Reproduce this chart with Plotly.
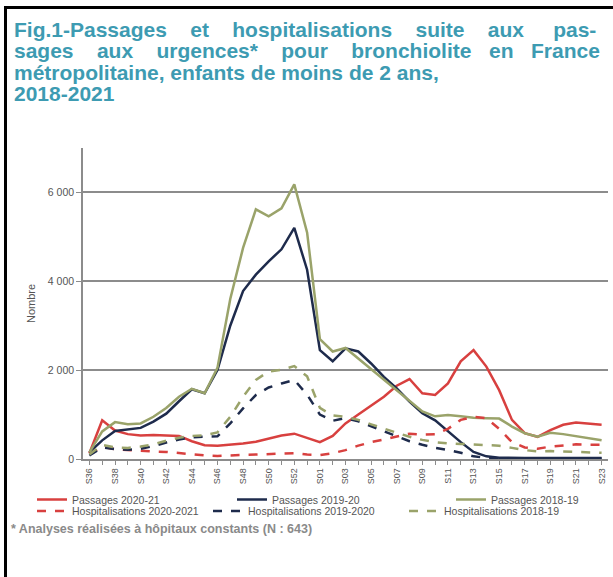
import plotly.graph_objects as go

weeks = ["S36","S37","S38","S39","S40","S41","S42","S43","S44","S45","S46","S47","S48","S49","S50","S51","S52","S53",
         "S01","S02","S03","S04","S05","S06","S07","S08","S09","S10","S11","S12","S13","S14","S15","S16","S17","S18",
         "S19","S20","S21","S22","S23"]

passages_2020_21 = [130, 870, 640, 560, 530, 540, 530, 520, 400, 310, 300, 320, 350, 390, 460, 530, 570, 480,
                    380, 520, 800, 1000, 1200, 1400, 1650, 1800, 1480, 1440, 1700, 2200, 2450, 2080, 1550, 880,
                    580, 500, 650, 770, 820, 790, 770]
passages_2019_20 = [150, 420, 630, 660, 700, 840, 1020, 1300, 1570, 1480, 2000, 3000, 3780, 4150, 4450, 4720, 5200, 4260,
                    2450, 2200, 2490, 2420, 2150, 1850, 1590, 1290, 1030, 870, 620, 380, 160, 60, 30, 20,
                    20, 20, 20, 20, 20, 20, 20]
passages_2018_19 = [150, 620, 830, 780, 800, 950, 1150, 1400, 1580, 1480, 2050, 3600, 4750, 5620, 5460, 5640, 6180, 5100,
                    2700, 2420, 2500, 2260, 2040, 1790, 1560, 1300, 1070, 960, 990, 960, 930, 920, 910, 730,
                    580, 500, 590, 560, 510, 470, 420]
hosp_2020_21 = [100, 280, 220, 200, 190, 170, 160, 130, 100, 80, 70, 80, 90, 100, 110, 120, 130, 100,
                90, 130, 200, 300, 380, 440, 500, 570, 550, 560, 680, 880, 950, 920, 680, 380,
                260, 230, 280, 310, 330, 320, 320]
hosp_2019_20 = [80, 260, 220, 210, 230, 290, 370, 440, 490, 500, 510, 800, 1140, 1440, 1610, 1700, 1780, 1450,
                1000, 860, 920, 850, 740, 620, 510, 400, 320, 250, 200, 140, 60, 25, 15, 10,
                10, 10, 10, 10, 10, 10, 10]
hosp_2018_19 = [100, 320, 260, 250, 280, 330, 410, 480, 520, 530, 600, 950, 1400, 1780, 1970, 2010, 2090, 1860,
                1150, 980, 950, 880, 780, 680, 590, 500, 430, 380, 350, 340, 330, 320, 300, 250,
                200, 170, 180, 170, 160, 150, 140]

y_ticks = [0, 2000, 4000, 6000]
y_tick_labels = ["0", "2 000", "4 000", "6 000"]

RED = "#d8403f"
NAVY = "#1e2b4c"
OLIVE = "#9aa36a"

W, H = 613, 577
L, R, T, B = 83, 5, 148, 118
PW, PH = W - L - R, H - T - B


def px_x(p):
    return (p - L) / PW


def px_y(p):
    return (H - B - p) / PH


x = list(range(len(weeks)))

font_main = "Liberation Sans, Arial, sans-serif"
leg_font = dict(size=10.5, color="#555555", family=font_main)

# legend slot positions (line start x, row top y)
series = [
    ("Passages 2020-21", passages_2020_21, RED, "solid", 37, 485),
    ("Passages 2019-20", passages_2019_20, NAVY, "solid", 237, 485),
    ("Passages 2018-19", passages_2018_19, OLIVE, "solid", 456, 485),
    ("Hospitalisations 2020-2021", hosp_2020_21, RED, "dash", 37, 496.5),
    ("Hospitalisations 2019-2020", hosp_2019_20, NAVY, "dash", 213, 496.5),
    ("Hospitalisations 2018-19", hosp_2018_19, OLIVE, "dash", 409, 496.5),
]

fig = go.Figure()
legends = {}
for k, (name, vals, col, dash, lx, ly) in enumerate(series):
    key = "legend" if k == 0 else f"legend{k + 1}"
    fig.add_trace(go.Scatter(x=x, y=vals, mode="lines", name=name, legend=key,
                             line=dict(color=col, width=2.5, dash=dash)))
    legends[key] = dict(orientation="h", x=px_x(lx - 5), y=px_y(ly), xanchor="left", yanchor="top",
                        font=leg_font, bgcolor="rgba(0,0,0,0)", borderwidth=0)

fig.update_layout(
    width=W, height=H,
    margin=dict(l=L, r=R, t=T, b=B),
    paper_bgcolor="white", plot_bgcolor="white",
    font=dict(family=font_main, color="#555555", size=9),
    showlegend=True,
    xaxis=dict(range=[-0.5, len(weeks) - 0.5], tickmode="array",
               tickvals=x[::2], ticktext=weeks[::2], tickangle=-90,
               tickfont=dict(size=9, color="#555555"),
               showgrid=False, zeroline=False, showline=True, linecolor="#8c8c8c", linewidth=1.5,
               ticks="outside", ticklen=4, tickcolor="#8c8c8c", ticklabeloverflow="allow",
               minor=dict(ticks="outside", tickmode="linear", tick0=0, dtick=1, ticklen=4, tickcolor="#8c8c8c")),
    yaxis=dict(range=[0, 7000], tickmode="array", tickvals=y_ticks, ticktext=y_tick_labels,
               tickfont=dict(size=10.5, color="#555555"),
               showgrid=True, gridcolor="#8c8c8c", gridwidth=1.5, zeroline=False,
               showline=True, linecolor="#8c8c8c", linewidth=1.5,
               ticks="outside", ticklen=5, tickcolor="#8c8c8c",
               title=dict(text="Nombre", font=dict(size=11, color="#555555"), standoff=10)),
    **legends,
)

NB = "\u00a0"
title_lines = [
    ("Fig.1-Passages et hospitalisations suite aux pas-", [3, 3, 3, 3, 4, 3, 4]),
    ("sages aux urgences* pour bronchiolite en France", [3, 3, 3, 3, 2, 2]),
    ("métropolitaine, enfants de moins de 2 ans,", None),
    ("2018-2021", None),
]
title_y = [29, 50.5, 72, 93.5]
for (line, gaps), ty in zip(title_lines, title_y):
    if gaps:
        words = line.split(" ")
        txt = words[0]
        for w, g in zip(words[1:], gaps):
            txt += " " + NB * g + w
    else:
        txt = line
    fig.add_annotation(text="<b>" + txt + "</b>", xref="paper", yref="paper",
                       x=px_x(12), y=px_y(ty),
                       xanchor="left", yanchor="middle", showarrow=False,
                       font=dict(family=font_main, size=21, color="#3d9bb2"))

fig.add_annotation(text="<b>* Analyses réalisées à hôpitaux constants (N : 643)</b>",
                   xref="paper", yref="paper", x=px_x(9), y=px_y(529),
                   xanchor="left", yanchor="middle", showarrow=False,
                   font=dict(family=font_main, size=12.5, color="#8a8a8a"))

# frame
fig.add_shape(type="line", xref="paper", yref="paper",
              x0=px_x(5.5), x1=px_x(5.5), y0=px_y(H), y1=px_y(7),
              line=dict(color="black", width=3))
fig.add_shape(type="line", xref="paper", yref="paper",
              x0=px_x(4), x1=px_x(W), y0=px_y(7.5), y1=px_y(7.5),
              line=dict(color="black", width=3))

fig.write_html("out.html", config={"displayModeBar": False},
               post_script="document.body.style.margin='0';")
